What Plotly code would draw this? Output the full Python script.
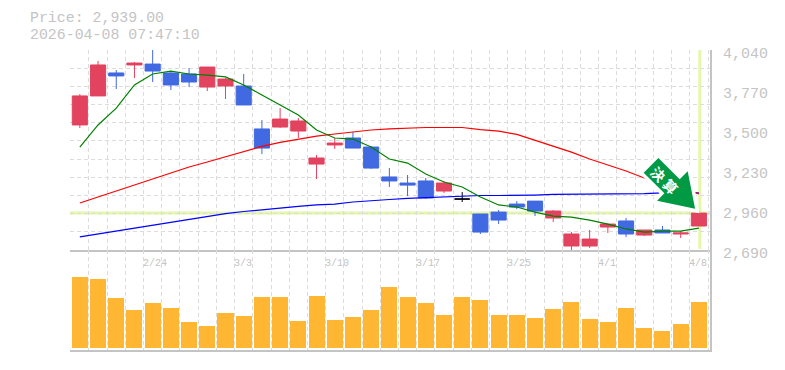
import plotly.graph_objects as go

# ---- data ----
last_price = 2939
price_text = "Price: 2,939.00"
time_text = "2026-04-08 07:47:10"
days = list(range(35))
opens = [3534,3730,3885,3939,3945,3885,3878,3790,3797,3797,3507,3520,3493,3270,3399,3446,3385,3183,3142,3156,3088,None,2933,2946,3000,3020,2906,2717,2717,2845,2886,2791,2825,2798,2852]
highs = [3743,3966,3905,3959,4040,3891,3918,3925,3851,3878,3567,3648,3581,3331,3446,3486,3392,3243,3196,3176,3156,None,2933,2960,3020,3020,2960,2811,2825,2865,2906,2825,2852,2818,2953]
lows = [3513,3730,3777,3851,3824,3770,3790,3763,3709,3669,3338,3513,3446,3169,3372,3378,3237,3115,3054,3034,3075,None,2798,2865,2966,2919,2879,2683,2703,2805,2778,2784,2805,2771,2852]
closes = [3730,3939,3865,3952,3898,3804,3824,3925,3844,3669,3378,3574,3561,3311,3412,3378,3243,3156,3128,3041,3142,None,2811,2892,2980,2953,2953,2798,2764,2865,2798,2825,2805,2805,2939]
doji_day = [21]
doji_open = [3034]
doji_high = [3081]
doji_low = [3014]
doji_close = [3034]
ma_short = [3385,3534,3648,3804,3878,3898,3878,3871,3858,3804,3736,3669,3601,3500,3446,3439,3385,3304,3277,3203,3149,3115,3048,2994,2980,2946,2919,2912,2892,2865,2832,2811,2818,2818,2838]
ma_mid = [3007,3048,3088,3129,3173,3213,3250,3284,3318,3351,3389,3416,3439,3459,3473,3486,3500,3507,3513,3517,3517,3517,3503,3493,3470,3432,3392,3351,3304,3264,3223,3176,3142,3108,3068]
ma_long = [2778,2798,2818,2838,2859,2879,2899,2919,2936,2950,2963,2973,2984,2994,3000,3014,3024,3031,3038,3044,3051,3054,3058,3058,3058,3061,3065,3066,3067,3067,3068,3071,3075,3075,3075]
volume = [71,69,50,38,45,40,26,22,35,32,51,51,27,52,28,31,38,61,51,45,33,51,48,33,33,30,39,46,29,26,40,20,17,24,46]
price_ticks = [2690,2960,3230,3500,3770,4040]
price_labels = ["2,690","2,960","3,230","3,500","3,770","4,040"]
date_days = [4,9,14,19,24,29,34]
date_labels = ["2/24","3/3","3/10","3/17","3/25","4/1","4/8"]

GREY = "#c4c4c4"
GRID = "#dcdcdc"
HILITE = "#e4f8a8"
RED = "#e2435f"
BLUE = "#4169e1"
MONO = "Liberation Mono"
arrow_path = "M-40.5,55 L-55.2,40.4 L-34.5,19.8 L-41.8,12.4 L-3.8,4.4 L-11.2,41.8 L-19.2,33.8 Z"

fig = go.Figure()
fig.add_trace(go.Candlestick(x=days, open=opens, high=highs, low=lows, close=closes,
    increasing=dict(fillcolor=RED, line=dict(color=RED, width=1)),
    decreasing=dict(fillcolor=BLUE, line=dict(color=BLUE, width=1)),
    whiskerwidth=0, xaxis="x", yaxis="y", hoverinfo="skip"))
fig.add_trace(go.Candlestick(x=doji_day, open=doji_open, high=doji_high, low=doji_low, close=doji_close,
    increasing=dict(fillcolor="#000000", line=dict(color="#000000", width=1)),
    decreasing=dict(fillcolor="#000000", line=dict(color="#000000", width=1)),
    whiskerwidth=0, xaxis="x", yaxis="y", hoverinfo="skip"))
for vals, col in ((ma_long, "#0000ff"), (ma_mid, "#ff0000"), (ma_short, "#008000")):
    fig.add_trace(go.Scatter(x=days, y=vals, mode="lines", line=dict(color=col, width=1.2),
                             xaxis="x", yaxis="y", hoverinfo="skip"))
fig.add_trace(go.Bar(x=days, y=volume, width=0.88, marker=dict(color="#ffb733", line=dict(width=0)),
                     xaxis="x2", yaxis="y2", hoverinfo="skip"))

annotations = [
    dict(text=price_text, xref="paper", yref="paper", x=-41/640.5, y=(350-18)/300, xanchor="left", yanchor="middle",
         showarrow=False, borderpad=0, font=dict(family=MONO, size=14.9, color=GREY)),
    dict(text=time_text, xref="paper", yref="paper", x=-41/640.5, y=(350-35)/300, xanchor="left", yanchor="middle",
         showarrow=False, borderpad=0, font=dict(family=MONO, size=14.9, color=GREY)),
]
for d, lab in zip(date_days, date_labels):
    annotations.append(dict(text=lab, xref="x", yref="paper", x=d-0.6, y=(350-263)/300, xanchor="left", yanchor="middle",
                            showarrow=False, borderpad=0, font=dict(family=MONO, size=10, color=GREY)))
annotations.append(dict(text="<b>決 算</b>", xref="paper", yref="paper", x=(665-70)/640.5, y=(350-180)/300,
                        xanchor="center", yanchor="middle", textangle=45, showarrow=False,
                        font=dict(family="Noto Sans CJK JP", size=14, color="#ffffff")))

shapes = [
    dict(type="line", layer="below", xref="x domain", yref="y", x0=0, x1=1, y0=last_price, y1=last_price,
         line=dict(color=HILITE, width=3)),
    dict(type="line", layer="below", xref="x", yref="y domain", x0=days[-1]+0.05, x1=days[-1]+0.05, y0=0.005, y1=1,
         line=dict(color=HILITE, width=3)),
    dict(type="path", layer="above", xref="x", yref="y", xsizemode="pixel", ysizemode="pixel",
         xanchor=days[-1], yanchor=last_price, path=arrow_path, fillcolor="#ffffff", line=dict(color="#ffffff", width=7)),
    dict(type="path", layer="above", xref="x", yref="y", xsizemode="pixel", ysizemode="pixel",
         xanchor=days[-1], yanchor=last_price, path=arrow_path, fillcolor="#009944", line=dict(width=0)),
]

x_common = dict(range=[-0.54, 34.61], showgrid=False, zeroline=False, showticklabels=False, ticks="",
                showline=True, linecolor=GREY, linewidth=2,
                minor=dict(showgrid=True, tickmode="linear", tick0=-0.5, dtick=1, gridcolor=GRID, griddash="4px,3px", gridwidth=1, ticks=""),
                rangeslider=dict(visible=False))
fig.update_layout(
    width=785, height=370, autosize=False, showlegend=False,
    margin=dict(l=62, r=82.5, t=42, b=28, pad=0),
    paper_bgcolor="#ffffff", plot_bgcolor="#ffffff",
    boxgap=0.17, boxgroupgap=0, bargap=0,
    xaxis=dict(domain=[0, 1], anchor="y", **x_common),
    xaxis2=dict(domain=[0, 1], anchor="y2", matches="x", **x_common),
    yaxis=dict(domain=[100/300, 1], anchor="x", side="right", range=[2690, 4040],
               tickmode="array", tickvals=price_ticks, ticktext=price_labels,
               ticks="", ticklen=0, ticklabelstandoff=8, ticklabelshift=3,
               tickfont=dict(family=MONO, size=15, color=GREY),
               showgrid=False, zeroline=False, showline=True, linecolor=GREY, linewidth=2,
               minor=dict(showgrid=True, tickmode="linear", tick0=2690, dtick=1350/11, gridcolor=GRID, griddash="4px,3px", gridwidth=1, ticks="")),
    yaxis2=dict(domain=[0, 100/300], anchor="x2", side="right", range=[-2, 98], showticklabels=False, ticks="",
                showgrid=False, zeroline=False, showline=True, linecolor=GREY, linewidth=2),
    annotations=annotations, shapes=shapes,
)
fig.write_html("out.html")
